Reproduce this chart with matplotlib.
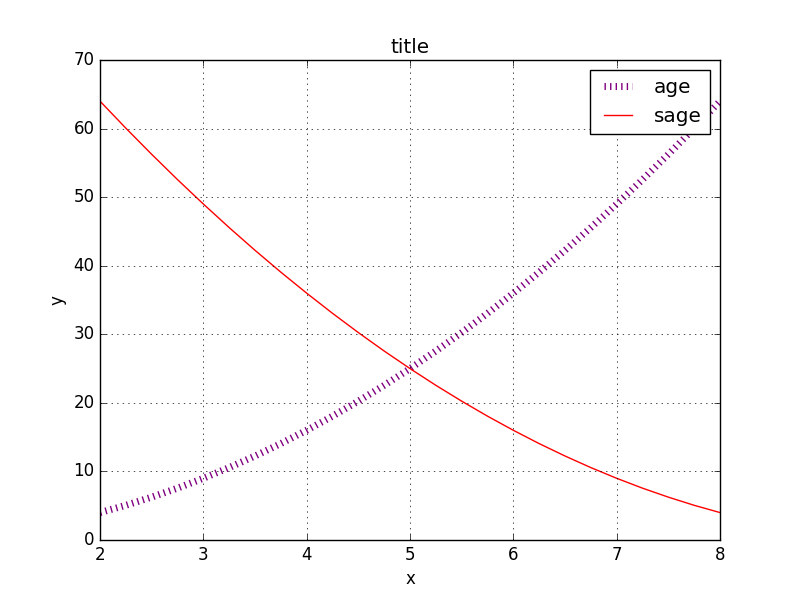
import matplotlib
import matplotlib.pyplot as plt

matplotlib.use("Agg")
plt.style.use("classic")

x = [2.0, 2.25, 2.5, 2.75, 3.0, 3.25, 3.5, 3.75, 4.0, 4.25, 4.5, 4.75, 5.0,
     5.25, 5.5, 5.75, 6.0, 6.25, 6.5, 6.75, 7.0, 7.25, 7.5, 7.75, 8.0]
age = [4.0, 5.06, 6.25, 7.56, 9.0, 10.56, 12.25, 14.06, 16.0, 18.06, 20.25,
       22.56, 25.0, 27.56, 30.25, 33.06, 36.0, 39.06, 42.25, 45.56, 49.0,
       52.56, 56.25, 60.06, 64.0]
sage = [64.0, 60.06, 56.25, 52.56, 49.0, 45.56, 42.25, 39.06, 36.0, 33.06,
        30.25, 27.56, 25.0, 22.56, 20.25, 18.06, 16.0, 14.06, 12.25, 10.56,
        9.0, 7.56, 6.25, 5.06, 4.0]

fig, ax = plt.subplots(figsize=(8, 6), dpi=100)
ax.plot(x, age, color="purple", linestyle=":", linewidth=5, label="age")
ax.plot(x, sage, color="red", linestyle="-", linewidth=1, label="sage")
ax.set_xlim(2, 8)
ax.set_ylim(0, 70)
ax.set_title("title")
ax.set_xlabel("x")
ax.set_ylabel("y")
ax.grid(True)
ax.legend(loc="upper right")
fig.savefig("out.png", dpi=100)
